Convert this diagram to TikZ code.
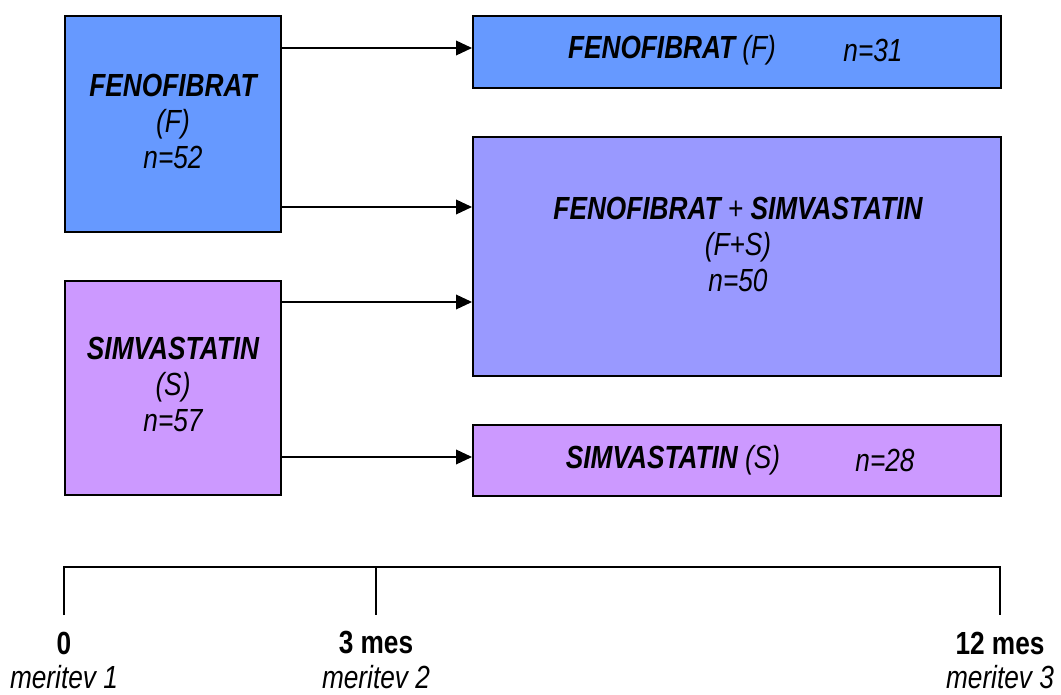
\documentclass[tikz,border=0pt]{standalone}
\usepackage{fontspec}
\setmainfont{Liberation Sans}[FakeStretch=0.82]
\usetikzlibrary{arrows.meta}
\definecolor{fblue}{HTML}{6699FF}
\definecolor{fsblue}{HTML}{9999FF}
\definecolor{spurple}{HTML}{CC99FF}
\begin{document}
\begin{tikzpicture}[x=0.75pt,y=-0.75pt,
  box/.style={draw=black, line width=1.4pt, inner sep=0pt, anchor=north west},
  txt/.style={font=\fontsize{24}{27}\selectfont\itshape, align=center, inner sep=0pt},
  arr/.style={line width=1.1pt, -{Triangle[length=12pt,width=11pt]}},
  axis/.style={line width=1.1pt},
  tick/.style={font=\fontsize{24}{27}\selectfont\bfseries, inner sep=0pt},
  meas/.style={font=\fontsize{24}{27}\selectfont\itshape, inner sep=0pt}]
\useasboundingbox (0,0) rectangle (1061,695);
% boxes
\node[box, fill=fblue, minimum width=162pt, minimum height=162pt] (Fl) at (64,15) {};
\node[box, fill=spurple, minimum width=162pt, minimum height=160.5pt] (Sl) at (64,280) {};
\node[box, fill=fblue, minimum width=396pt, minimum height=54pt] (Fr) at (472,15) {};
\node[box, fill=fsblue, minimum width=396pt, minimum height=179.25pt] (FS) at (472,136) {};
\node[box, fill=spurple, minimum width=396pt, minimum height=53.25pt] (Sr) at (472,424) {};
% texts
\node[txt] (tFl) at (173,121) {\textbf{FENOFIBRAT}\\(F)\\n=52};
\node[txt] (tSl) at (173,384) {\textbf{SIMVASTATIN}\\(S)\\n=57};
\node[txt] (tFr) at (672,50) {\textbf{FENOFIBRAT} (F)};
\node[txt] (nFr) at (873,50) {n=31};
\node[txt] (tFS) at (738,244) {\textbf{FENOFIBRAT} + \textbf{SIMVASTATIN}\\(F+S)\\n=50};
\node[txt] (tSr) at (673,460) {\textbf{SIMVASTATIN} (S)};
\node[txt] (nSr) at (885,460) {n=28};
% arrows
\draw[arr] (Fl.east |- 0,48) -- (Fr.west |- 0,48);
\draw[arr] (Fl.east |- 0,207) -- (FS.west |- 0,207);
\draw[arr] (Sl.east |- 0,302) -- (FS.west |- 0,302);
\draw[arr] (Sl.east |- 0,457) -- (Sr.west |- 0,457);
% timeline
\coordinate (a0) at (64,567);
\coordinate (a1) at (376,567);
\coordinate (a2) at (1000,567);
\coordinate (b0) at (64,615);
\coordinate (b1) at (376,615);
\coordinate (b2) at (1000,615);
\draw[axis] (b0) -- (a0) -- (a2) -- (b2);
\draw[axis] (a1) -- (b1);
\node[tick] (l0) at (64,643) {0};
\node[tick] (l1) at (376,643) {3 mes};
\node[tick] (l2) at (1000,643) {12 mes};
\node[meas] (m0) at (64,677) {meritev 1};
\node[meas] (m1) at (376,677) {meritev 2};
\node[meas] (m2) at (1000,677) {meritev 3};
\end{tikzpicture}
\end{document}
